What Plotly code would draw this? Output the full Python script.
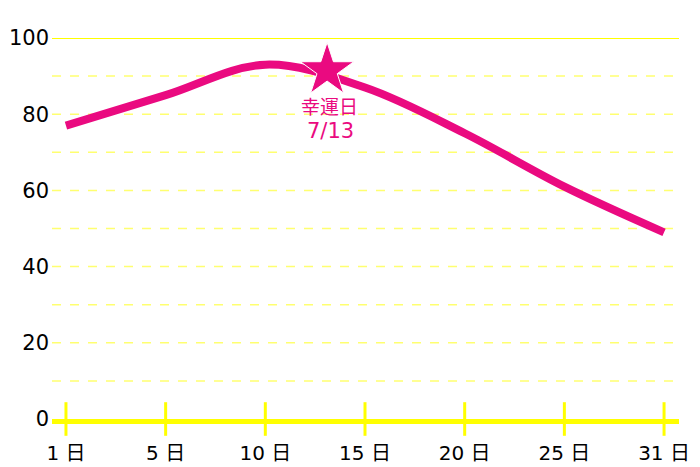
import plotly.graph_objects as go

# 日別の運勢スコア
days = ["1 日", "5 日", "10 日", "15 日", "20 日", "25 日", "31 日"]
scores = [77, 85, 93, 87, 75, 61, 49]

# 幸運日 (7/13) -> 10日と15日の間の位置
lucky_pos = [2.62]
lucky_score = [91.5]
lucky_name = "幸運日"
lucky_date = "7/13"

PINK = "#EA0A80"
YELLOW = "#FFFF00"
GRID = "#FFFF70"
FONT = "DejaVu Sans, Noto Sans CJK JP"

x_idx = list(range(len(days)))

fig = go.Figure()

# 軸の目盛り (軸線を上下にまたぐ)
fig.add_trace(go.Scatter(
    x=x_idx,
    y=[0] * len(days),
    mode="markers",
    marker=dict(symbol="line-ns", size=24, line=dict(color=YELLOW, width=3)),
    cliponaxis=False,
    hoverinfo="skip",
    showlegend=False,
))

fig.add_trace(go.Scatter(
    x=x_idx,
    y=scores,
    mode="lines",
    line=dict(color=PINK, width=8, shape="spline", smoothing=1.0),
    showlegend=False,
))

fig.add_trace(go.Scatter(
    x=lucky_pos,
    y=lucky_score,
    mode="markers",
    marker=dict(symbol="star", size=40, color=PINK, line=dict(color="white", width=1)),
    showlegend=False,
))

fig.add_annotation(
    x=lucky_pos[0], y=lucky_score[0],
    text=lucky_name,
    showarrow=False,
    yanchor="middle",
    yshift=-35,
    xshift=2,
    font=dict(family="Noto Sans CJK JP", size=19, color=PINK),
)
fig.add_annotation(
    x=lucky_pos[0], y=lucky_score[0],
    text=lucky_date,
    showarrow=False,
    yanchor="middle",
    yshift=-61,
    xshift=3,
    font=dict(family=FONT, size=21, color=PINK),
)

# 上端の実線
fig.add_shape(type="line", xref="paper", yref="y", x0=0, x1=1, y0=100, y1=100,
              line=dict(color=YELLOW, width=2))

# ページ余白 (8px) を差し引いたサイズ
fig.update_layout(
    width=692,
    height=459,
    margin=dict(l=44, r=21, t=30, b=48),
    plot_bgcolor="white",
    paper_bgcolor="white",
    font=dict(family=FONT, color="black"),
    xaxis=dict(
        range=[-0.14, 6.15],
        tickvals=x_idx,
        ticktext=days,
        showgrid=False,
        zeroline=False,
        showline=True,
        linecolor=YELLOW,
        linewidth=5,
        ticks="outside",
        ticklen=12,
        tickcolor="rgba(0,0,0,0)",
        tickfont=dict(family=FONT, size=20, color="black"),
        automargin=False,
    ),
    yaxis=dict(
        range=[0, 100],
        tickvals=[0, 20, 40, 60, 80, 100],
        showgrid=False,
        zeroline=False,
        ticks="",
        tickfont=dict(family=FONT, size=21, color="black"),
        ticklabelstandoff=2,
        automargin=False,
    ),
)

# 10刻みの破線グリッド
for v in range(10, 100, 10):
    fig.add_shape(type="line", xref="paper", yref="y", x0=0, x1=1, y0=v, y1=v,
                  line=dict(color=GRID, width=1.5, dash="dash"), layer="below")

fig.write_html("out.html")
